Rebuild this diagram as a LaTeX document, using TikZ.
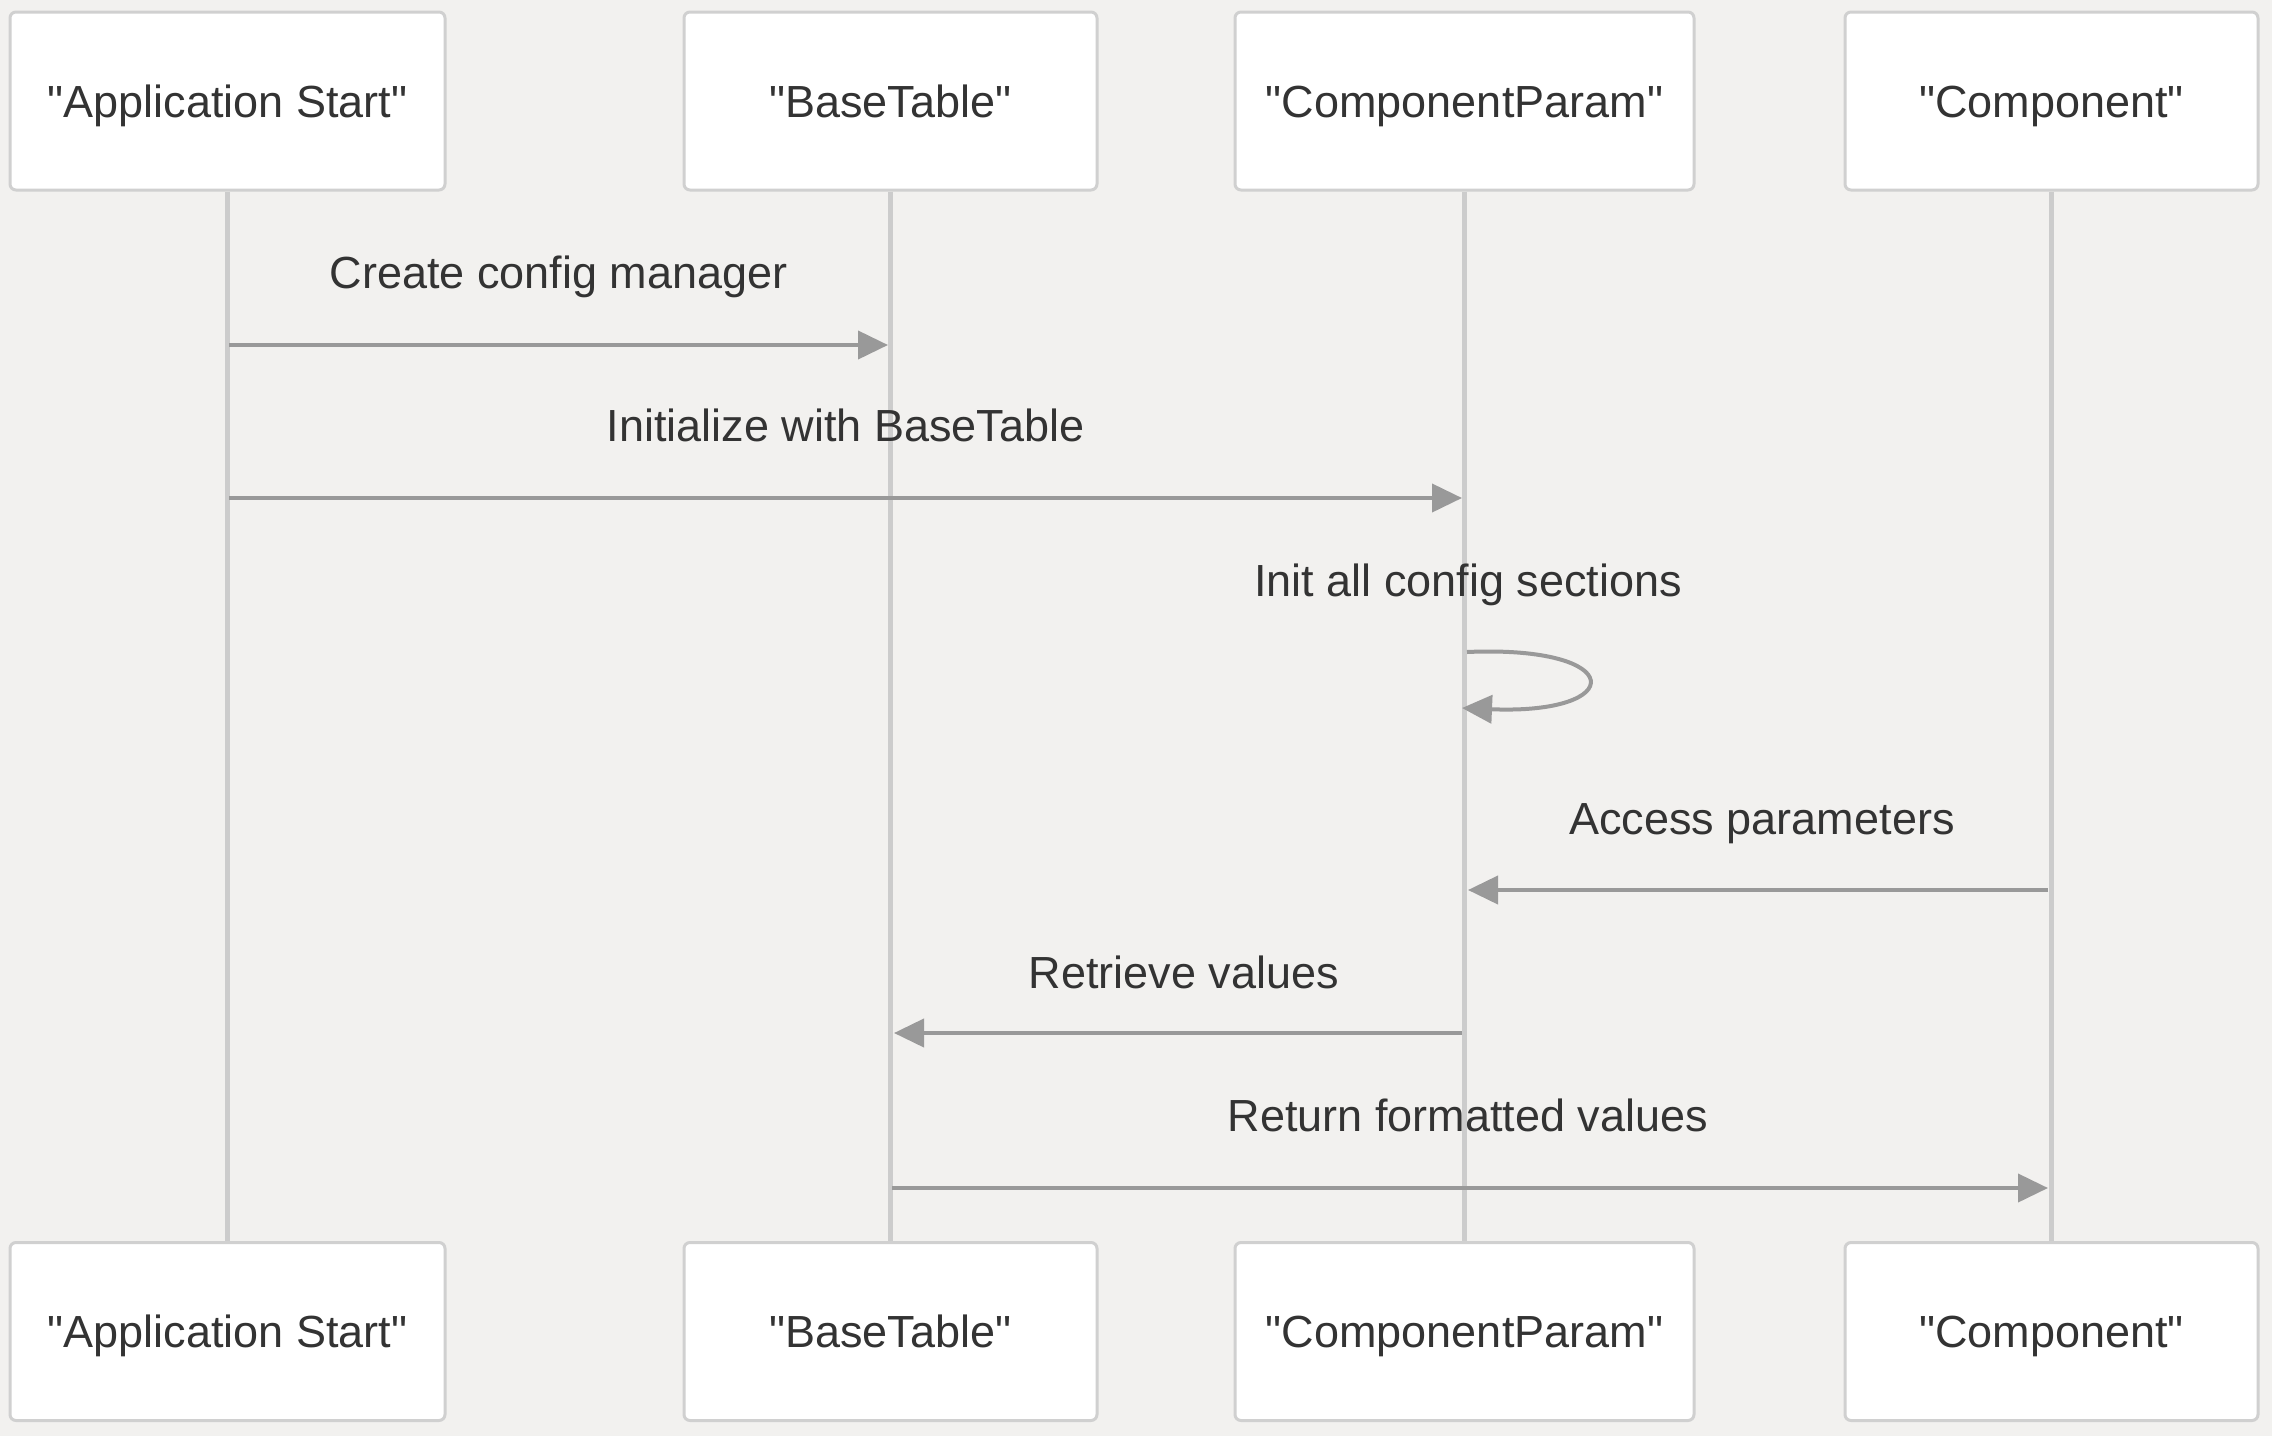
\documentclass[tikz,border=0pt]{standalone}
\usepackage{fontspec}
\newfontfamily\libsans{Liberation Sans}
\usetikzlibrary{arrows.meta}
\definecolor{bg}{RGB}{242,241,239}
\definecolor{txt}{RGB}{51,51,51}
\definecolor{boxline}{RGB}{208,208,208}
\definecolor{life}{RGB}{204,204,204}
\definecolor{msg}{RGB}{153,153,153}
\begin{document}
\begin{tikzpicture}[x=0.5pt,y=-0.5pt,
 actor/.style={draw=boxline, line width=1.5pt, fill=white, rounded corners=3pt,
   minimum height=89pt, inner sep=0pt, text height=16pt, text depth=0pt,
   font=\libsans\fontsize{22.5}{27}\selectfont, text=txt},
 lifeline/.style={draw=life, line width=2.5pt},
 msgline/.style={draw=msg, line width=2pt, -{Triangle[length=15pt,width=14pt]}},
 msglabel/.style={anchor=base, font=\libsans\fontsize{22.5}{27}\selectfont, text=txt, inner sep=0pt}]
\fill[bg] (0,0) rectangle (2272,1436);
\useasboundingbox (0,0) rectangle (2272,1436);
% top actors
\node[actor, minimum width=217.5pt] (a1) at (227.5,101) {"Application Start"};
\node[actor, minimum width=206.5pt] (b1) at (890.5,101) {"BaseTable"};
\node[actor, minimum width=229.5pt] (c1) at (1464.5,101) {"ComponentParam"};
\node[actor, minimum width=206.5pt] (d1) at (2051.5,101) {"Component"};
% bottom actors
\node[actor, minimum width=217.5pt] (a2) at (227.5,1331.5) {"Application Start"};
\node[actor, minimum width=206.5pt] (b2) at (890.5,1331.5) {"BaseTable"};
\node[actor, minimum width=229.5pt] (c2) at (1464.5,1331.5) {"ComponentParam"};
\node[actor, minimum width=206.5pt] (d2) at (2051.5,1331.5) {"Component"};
% lifelines
\draw[lifeline] (a1.south) -- (a2.north);
\draw[lifeline] (b1.south) -- (b2.north);
\draw[lifeline] (c1.south) -- (c2.north);
\draw[lifeline] (d1.south) -- (d2.north);
% message end points
\coordinate (m1s) at (229,345);  \coordinate (m1e) at (888,345);
\coordinate (m2s) at (229,498);  \coordinate (m2e) at (1462,498);
\coordinate (m3s) at (1467,652); \coordinate (m3e) at (1462,708);
\coordinate (m4s) at (2048,890); \coordinate (m4e) at (1468,890);
\coordinate (m5s) at (1462,1033); \coordinate (m5e) at (894,1033);
\coordinate (m6s) at (892,1188); \coordinate (m6e) at (2048,1188);
% messages
\draw[msgline] (m1s) -- (m1e);
\node[msglabel] (l1) at (558.5,288) {Create config manager};
\draw[msgline] (m2s) -- (m2e);
\node[msglabel] (l2) at (845.5,441) {Initialize with BaseTable};
\draw[msgline] (m3s) .. controls (1628,645) and (1628,715) .. (m3e);
\node[msglabel] (l3) at (1468,596) {Init all config sections};
\draw[msgline] (m4s) -- (m4e);
\node[msglabel] (l4) at (1762,834) {Access parameters};
\draw[msgline] (m5s) -- (m5e);
\node[msglabel] (l5) at (1184,988) {Retrieve values};
\draw[msgline] (m6s) -- (m6e);
\node[msglabel] (l6) at (1468,1131) {Return formatted values};
\end{tikzpicture}
\end{document}
